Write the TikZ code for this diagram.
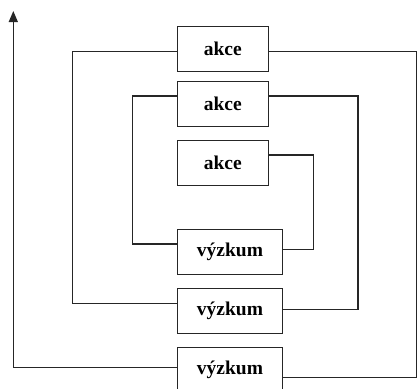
\documentclass[tikz,border=0pt]{standalone}
\usepackage{fontspec}
\setmainfont{Liberation Serif}
\usetikzlibrary{arrows.meta}

\begin{document}
\begin{tikzpicture}[x=1pt,y=-1pt, line width=1.3pt, black!85,
  box/.style={draw, rectangle, fill=white, text=black, inner sep=0pt,
    minimum height=45pt, font=\bfseries\fontsize{19.5}{22}\selectfont}]
\useasboundingbox (0,0) rectangle (417,388);
\clip (0,0) rectangle (417,388);
% akce
\node[box, minimum width=91pt] (akce1) at (222.8,49.2) {akce};
\node[box, minimum width=91pt] (akce2) at (222.8,103.9) {akce};
\node[box, minimum width=91pt] (akce3) at (222.8,163.2) {akce};
% vyzkum
\node[box, minimum width=105.4pt] (vyzkum1) at (230,251.7) {výzkum};
\node[box, minimum width=105.4pt] (vyzkum2) at (230,311) {výzkum};
\node[box, minimum width=105.4pt] (vyzkum3) at (230,369.8) {výzkum};
\coordinate (top) at (13.3,11);
% cykly
\draw ([yshift=-2.5pt]akce1.west) -- ++(-104,0) |- ([yshift=7.7pt]vyzkum2.west);
\draw ([yshift=-2.5pt]akce1.east) -- ++(148,0) |- ([yshift=-7.5pt]vyzkum3.east);
\draw ([yshift=7.9pt]akce2.west) -- ++(-44,0) |- ([yshift=7.7pt]vyzkum1.west);
\draw ([yshift=7.9pt]akce2.east) -- ++(89,0) |- ([yshift=1.7pt]vyzkum2.east);
\draw ([yshift=8.2pt]akce3.east) -- ++(44.4,0) |- ([yshift=2.4pt]vyzkum1.east);
% osa
\draw[-{Triangle[width=9pt,length=11pt]}] ([yshift=2.5pt]vyzkum3.west) -| (top);
\end{tikzpicture}
\end{document}
